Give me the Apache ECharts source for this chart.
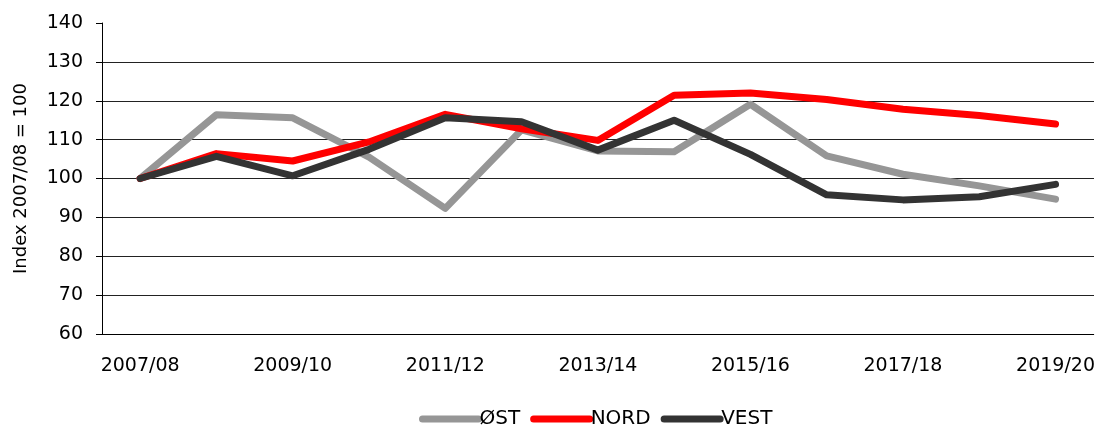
<!DOCTYPE html>
<html>
<head>
<meta charset="utf-8">
<script src="https://cdn.jsdelivr.net/npm/echarts@6/dist/echarts.min.js"></script>
<style>
  html, body { margin: 0; padding: 0; background: #fff; }
  #chart { width: 1098px; height: 428px; }
</style>
</head>
<body>
<div id="chart"></div>
<script>
    var years = ['2007/08', '2008/09', '2009/10', '2010/11', '2011/12', '2012/13', '2013/14',
                 '2014/15', '2015/16', '2016/17', '2017/18', '2018/19', '2019/20'];
    var ost  = [100, 116.4, 115.6, 105.5, 92.3, 112.5, 107.1, 106.9, 119.1, 105.8, 101.1, 98.1, 94.7];
    var nord = [100, 106.4, 104.5, 109.4, 116.5, 112.8, 109.8, 121.4, 122.0, 120.3, 117.8, 116.2, 114.0];
    var vest = [100, 105.7, 100.7, 107.5, 115.6, 114.6, 107.3, 115.0, 106.2, 95.8, 94.5, 95.3, 98.5];
    var names = ['ØST', 'NORD', 'VEST'];
    var colors = ['#969696', '#ff0000', '#333333'];

    var font = 'Verdana, "DejaVu Sans", sans-serif';

    function lineSeries(name, data) {
        return {
            name: name,
            type: 'line',
            data: data,
            showSymbol: false,
            symbol: 'none',
            lineStyle: { width: 7, cap: 'round', join: 'round' },
            emphasis: { disabled: true }
        };
    }

    var myChart = echarts.init(document.getElementById('chart'));
    var option = {
        backgroundColor: '#fff',
        animation: false,
        color: colors,
        textStyle: { fontFamily: font },
        legend: {
            data: names,
            top: 404,
            left: 414,
            itemWidth: 56,
            itemHeight: 14,
            itemGap: 10,
            itemStyle: { opacity: 0 },
            lineStyle: { width: 7, cap: 'round', opacity: 1 },
            textStyle: { fontSize: 20, color: '#000', fontFamily: font, padding: [0, 0, 0, -4] }
        },
        grid: [
            { left: 102, right: 4, top: 23, bottom: 94 },
            // second grid only carries the gridlines (no line at 140 in the original)
            { left: 102, right: 4, top: 62, bottom: 94 }
        ],
        xAxis: [{
            gridIndex: 0,
            type: 'category',
            data: years,
            boundaryGap: true,
            axisLine: { lineStyle: { color: '#000', width: 1 } },
            axisTick: { interval: 0, length: 6, lineStyle: { color: '#000' } },
            axisLabel: { interval: 1, margin: 23, fontSize: 19, color: '#000', fontFamily: font }
        }, {
            gridIndex: 1,
            type: 'category',
            data: years,
            show: false
        }],
        yAxis: [{
            gridIndex: 0,
            type: 'value',
            min: 60,
            max: 140,
            interval: 10,
            name: 'Index 2007/08 = 100',
            nameLocation: 'middle',
            nameGap: 72,
            nameTextStyle: { fontSize: 18, color: '#000', fontFamily: font },
            axisLine: { show: true, lineStyle: { color: '#000', width: 1 } },
            axisTick: { show: true, length: 6, lineStyle: { color: '#000' } },
            axisLabel: { margin: 19, fontSize: 19, color: '#000', fontFamily: font },
            splitLine: { show: false }
        }, {
            gridIndex: 1,
            type: 'value',
            min: 60,
            max: 130,
            interval: 10,
            axisLine: { show: false },
            axisTick: { show: false },
            axisLabel: { show: false },
            splitLine: { show: true, lineStyle: { color: '#222', width: 1 } }
        }],
        series: [
            lineSeries(names[0], ost),
            lineSeries(names[1], nord),
            lineSeries(names[2], vest)
        ]
    };

    myChart.setOption(option);
    window.onresize = myChart.resize;
</script>
</body>
</html>
